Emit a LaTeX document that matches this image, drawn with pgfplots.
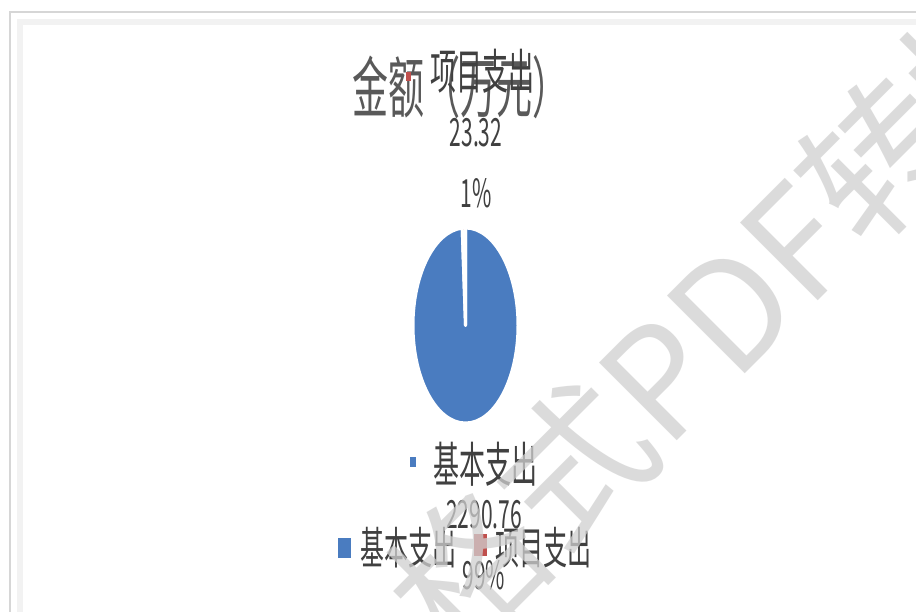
\documentclass[border=0pt]{standalone}
\usepackage{fontspec}
\setmainfont{Noto Sans CJK SC}
\usepackage{graphicx}
\usepackage{pgfplots}
\pgfplotsset{compat=1.18}
\definecolor{pieblue}{HTML}{4A7CC0}
\definecolor{piered}{HTML}{C0504D}
\definecolor{titlegray}{HTML}{595959}
\definecolor{labelgray}{HTML}{404040}
\definecolor{wm}{HTML}{D0D0D0}
\definecolor{framegray}{HTML}{D6D6D6}
\definecolor{framefaint}{HTML}{F2F2F2}
\newcommand{\st}[2]{\scalebox{1}[1.85]{\fontsize{#1}{#1}\selectfont #2}}
% data
\def\valA{2290.76}% 基本支出
\def\valB{23.32}% 项目支出
\pgfmathsetmacro\total{\valA+\valB}
\pgfmathsetmacro\frac{\valA/\total}
\pgfmathsetmacro\endA{90-360*\frac}
\def\cx{465.5}\def\cy{286.5}\def\rx{52.5}\def\ry{97.5}
\pgfmathsetmacro\bx{\cx+\rx*cos(\endA)}
\pgfmathsetmacro\by{\cy+\ry*sin(\endA)}
\pgfmathsetmacro\ay{\cy+\ry}
\begin{document}
\begin{tikzpicture}
\clip (0,0) rectangle (916pt,612pt);
\fill[white] (0,0) rectangle (916pt,612pt);
\begin{axis}[at={(0,0)},anchor=south west,width=916pt,height=612pt,scale only axis,
  xmin=0,xmax=916,ymin=0,ymax=612,hide axis,clip=false]
% frame
\draw[framefaint,line width=6pt] (axis cs:20,-20) -- (axis cs:20,590) -- (axis cs:940,590);
\draw[framegray,line width=2pt] (axis cs:10,-20) -- (axis cs:10,600) -- (axis cs:940,600);
% pie
\fill[pieblue,draw=white,line width=3pt,line join=round]
  (axis cs:\cx,\cy) -- (axis cs:\cx,\ay) arc[start angle=90,end angle=\endA,x radius=\rx pt,y radius=\ry pt] -- cycle;
\fill[piered,draw=white,line width=3pt,line join=round]
  (axis cs:\cx,\cy) -- (axis cs:\bx,\by) arc[start angle=\endA,end angle=-270,x radius=\rx pt,y radius=\ry pt] -- cycle;
% title
\node[inner sep=0,text=titlegray] at (axis cs:460,525) {\st{36}{金额（万元）}};
% label for 项目支出
\fill[piered] (axis cs:405.5,530.5) rectangle (axis cs:410.5,539.5);
\node[inner sep=0,text=labelgray] at (axis cs:482,541) {\st{26}{项目支出}};
\node[inner sep=0,text=labelgray] at (axis cs:476,479) {\st{21}{23.32}};
\node[inner sep=0,text=labelgray] at (axis cs:476,419) {\st{21}{1\%}};
% label for 基本支出
\fill[pieblue] (axis cs:410,145) rectangle (axis cs:416,155);
\node[inner sep=0,text=labelgray] at (axis cs:485,148) {\st{26}{基本支出}};
\node[inner sep=0,text=labelgray] at (axis cs:484,97) {\st{21}{2290.76}};
\node[inner sep=0,text=labelgray] at (axis cs:484,37) {\st{21}{99\%}};
% legend
\fill[pieblue] (axis cs:338,54) rectangle (axis cs:351,74);
\node[inner sep=0,text=labelgray] at (axis cs:408,64) {\st{24}{基本支出}};
\fill[piered] (axis cs:474,56) rectangle (axis cs:487,78);
\node[inner sep=0,text=labelgray] at (axis cs:543,64) {\st{24}{项目支出}};
% watermark
\node[inner sep=0,text=wm,rotate=45,opacity=0.75] at (axis cs:726,300) {\fontsize{150}{150}\selectfont 格式PDF转换};
\end{axis}
\end{tikzpicture}
\end{document}
